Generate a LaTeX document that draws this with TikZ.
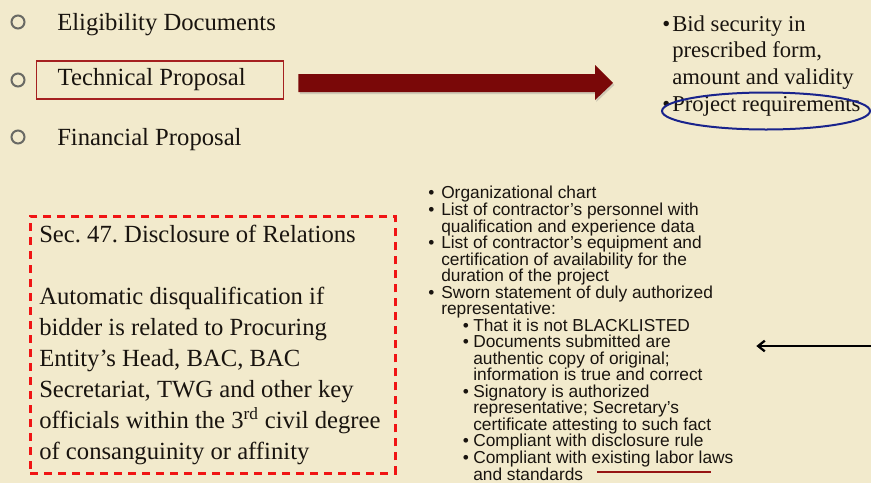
\documentclass[tikz,border=0pt]{standalone}
\usepackage{fontspec}
\setmainfont{Liberation Serif}
\setsansfont{Liberation Sans}
\usetikzlibrary{shapes.geometric,arrows.meta,shadows,calc}
\frenchspacing
\definecolor{parchment}{RGB}{242,234,204}
\definecolor{ink}{RGB}{25,20,15}
\definecolor{boxred}{RGB}{165,32,32}
\definecolor{arrowred}{RGB}{122,8,8}
\definecolor{ringblue}{RGB}{25,35,140}
\definecolor{dashred}{RGB}{240,20,20}
\definecolor{ulred}{RGB}{150,20,20}
\definecolor{bulletgray}{RGB}{105,105,100}
\newcommand{\bbl}{\makebox[7.5pt][l]{•}}
\newcommand{\bcn}{\hspace*{7.5pt}}
\newcommand{\lvA}{\makebox[9.75pt][l]{•}}
\newcommand{\cnA}{\hspace*{9.75pt}}
\newcommand{\lvB}{\hspace*{26pt}\makebox[7.75pt][l]{•}}
\newcommand{\cnB}{\hspace*{33.75pt}}
\tikzset{
    item text/.style={font=\fontsize{18.5pt}{23pt}\selectfont, text=ink, inner sep=0pt},
    hollow bullet/.style={circle, draw=bulletgray, line width=1.5pt, minimum size=9.75pt, inner sep=0pt},
    tech box/.style={item text, anchor=west, draw=boxred, line width=1.1pt, minimum width=185.25pt,
        minimum height=28.5pt, text width=153.75pt, inner xsep=15.75pt, inner ysep=0pt, align=flush left},
    big arrow/.style={fill=arrowred, drop shadow={opacity=.3, shadow xshift=1pt, shadow yshift=-1.5pt}},
    bid text/.style={font=\fontsize{17pt}{20pt}\selectfont, text=ink, inner sep=0pt, align=left},
    ring mark/.style={ellipse, draw=ringblue, line width=1.5pt, minimum width=156pt, minimum height=27.75pt},
    rel box/.style={draw=dashred, line width=1.9pt, dash pattern=on 6pt off 4.5pt,
        minimum width=273.75pt, minimum height=192.75pt, inner sep=0pt},
    rel text/.style={font=\fontsize{18.5pt}{23.25pt}\selectfont, text=ink, inner sep=0pt, align=left},
    req list/.style={font=\sffamily\fontsize{13pt}{12.4pt}\selectfont, text=ink, inner sep=0pt, align=left},
    pointer/.style={line width=1.7pt, -{Straight Barb[length=5pt, width=8pt]}},
    under mark/.style={draw=ulred, line width=1.5pt},
}
\begin{document}
\begin{tikzpicture}[x=0.75pt, y=-0.75pt]
    \useasboundingbox (0,0) rectangle (871,483);
    \fill[parchment] (0,0) rectangle (871,483);
    \node[hollow bullet] (b1) at (18,22) {};
    \node[hollow bullet] (b2) at (18,80) {};
    \node[hollow bullet] (b3) at (18,137) {};
    \node[item text, anchor=base west] (elig) at (57,30) {Eligibility Documents};
    \node[tech box] (tech) at (36,80) {Technical Proposal};
    \node[item text, anchor=base west] (fin) at (57,145) {Financial Proposal};
    \node[bid text, anchor=base west] (bid) at (662,111) {\bbl Bid security in\\\bcn prescribed form,\\\bcn amount and validity\\\bbl Project requirements};
    \node[ring mark] (ring) at (766,111) {};
    \coordinate (as) at ($(tech.east)+(14,3)$);
    \coordinate (ae) at (613,83);
    \fill[big arrow] ($(as)+(0,-9)$) -- ($(ae)+(-18,-9)$) -- ($(ae)+(-18,-18)$) -- (ae)
        -- ($(ae)+(-18,17)$) -- ($(ae)+(-18,9)$) -- ($(as)+(0,9)$) -- cycle;
    \node[rel box, anchor=north west] (rel) at (29,215) {};
    \node[rel text, anchor=base west] (reltxt) at (39,459) {Sec. 47. Disclosure of Relations\\[23.25pt]
        Automatic disqualification if\\bidder is related to Procuring\\Entity’s Head, BAC, BAC\\
        Secretariat, TWG and other key\\officials within the 3\textsuperscript{rd} civil degree\\of consanguinity or affinity};
    \node[req list, anchor=base west] (reqs) at (428,480) {\lvA Organizational chart\\
        \lvA List of contractor’s personnel with\\\cnA qualification and experience data\\
        \lvA List of contractor’s equipment and\\\cnA certification of availability for the\\\cnA duration of the project\\
        \lvA Sworn statement of duly authorized\\\cnA representative:\\
        \lvB That it is not BLACKLISTED\\
        \lvB Documents submitted are\\\cnB authentic copy of original;\\\cnB information is true and correct\\
        \lvB Signatory is authorized\\\cnB representative; Secretary’s\\\cnB certificate attesting to such fact\\
        \lvB Compliant with disclosure rule\\
        \lvB Compliant with existing labor laws\\\cnB and standards};
    \coordinate (edge) at (871,346);
    \draw[pointer] (edge) -- ([xshift=17pt]reqs.east |- edge);
    \draw[under mark] (597,472) -- (711,472);
\end{tikzpicture}
\end{document}
